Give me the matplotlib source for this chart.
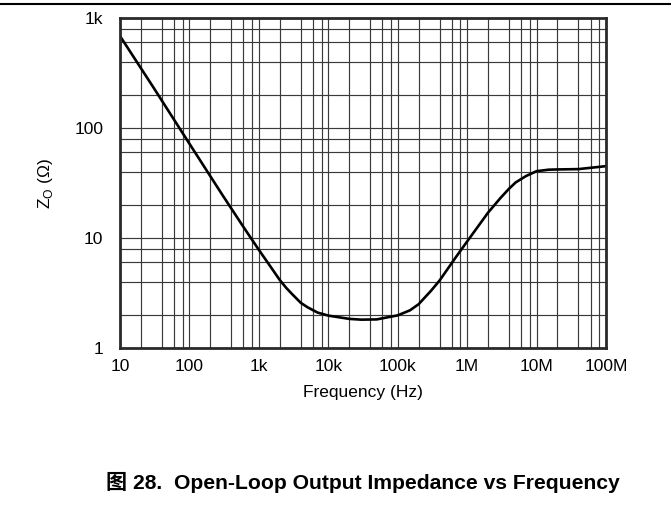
import matplotlib
matplotlib.use("Agg")
import matplotlib.pyplot as plt
from matplotlib.ticker import LogLocator, FixedLocator, FixedFormatter, NullFormatter
from matplotlib.lines import Line2D

plt.rcParams['font.family'] = ['Liberation Sans', 'DejaVu Sans']

# Data
freq_hz = [10, 30, 100, 300, 600, 1000, 1500, 2000, 2500, 3000, 4000, 5000, 7000,
           10000, 20000, 30000, 50000, 100000, 150000, 200000, 300000,
           400000, 700000, 1000000, 2000000, 3000000, 4000000, 5000000,
           7000000, 10000000, 15000000, 20000000, 40000000, 100000000]
z_ohm = [686, 236, 72, 24.5, 12.6, 7.8, 5.4, 4.15, 3.5, 3.1, 2.58, 2.35, 2.1,
         1.97, 1.84, 1.81, 1.82, 1.98, 2.2, 2.5, 3.3,
         4.1, 6.8, 9.3, 17, 23, 28, 32,
         36.5, 40.5, 41.8, 42, 42.3, 45]

xtick_values = [10, 100, 1e3, 1e4, 1e5, 1e6, 1e7, 1e8]
xtick_labels = ['10', '100', '1k', '10k', '100k', '1M', '10M', '100M']
ytick_values = [1, 10, 100, 1000]
ytick_labels = ['1', '10', '100', '1k']

x_label = 'Frequency (Hz)'
y_label = r'Z$_{\mathregular{O}}$ (Ω)'
caption = '图 28.  Open-Loop Output Impedance vs Frequency'

W, H = 671, 512
fig = plt.figure(figsize=(W / 100, H / 100), dpi=100)
left, right, top, bottom = 120, 606, 18, 348
ax = fig.add_axes([left / W, 1 - bottom / H, (right - left) / W, (bottom - top) / H])

ax.set_xscale('log')
ax.set_yscale('log')
ax.set_xlim(10, 1e8)
ax.set_ylim(1, 1000)

ax.plot(freq_hz, z_ohm, color='black', lw=1.9, solid_joinstyle='round',
        solid_capstyle='round', zorder=3)

ax.xaxis.set_major_locator(FixedLocator(xtick_values))
ax.xaxis.set_major_formatter(FixedFormatter(xtick_labels))
ax.yaxis.set_major_locator(FixedLocator(ytick_values))
ax.yaxis.set_major_formatter(FixedFormatter(ytick_labels))
ax.xaxis.set_minor_locator(LogLocator(base=10, subs=(2, 4, 6, 8), numticks=30))
ax.yaxis.set_minor_locator(LogLocator(base=10, subs=(2, 4, 6, 8), numticks=30))
ax.xaxis.set_minor_formatter(NullFormatter())
ax.yaxis.set_minor_formatter(NullFormatter())

ax.grid(True, which='both', color='#3a3a3a', lw=0.85)
ax.set_axisbelow(True)

ax.tick_params(which='both', length=0)
ax.tick_params(axis='x', pad=8, labelsize=12.5)
ax.tick_params(axis='y', pad=12, labelsize=12.5)

for s in ax.spines.values():
    s.set_linewidth(2.0)
    s.set_color('#2a2a2a')
    s.set_zorder(4)

ax.set_xlabel(x_label, fontsize=12.5, labelpad=8)
ax.set_ylabel(y_label, fontsize=12.5, labelpad=14)

# separator line at the top
fig.add_artist(Line2D([0, 1], [1 - 4.3 / H, 1 - 4.3 / H], color='black', lw=1.5,
                      transform=fig.transFigure))

fig.text((left + right) / 2 / W, 1 - 482 / H, caption, ha='center', va='center',
         fontsize=15.2, fontweight='bold',
         family=['Liberation Sans', 'Noto Sans CJK SC'])

fig.savefig('out.png', dpi=100)
